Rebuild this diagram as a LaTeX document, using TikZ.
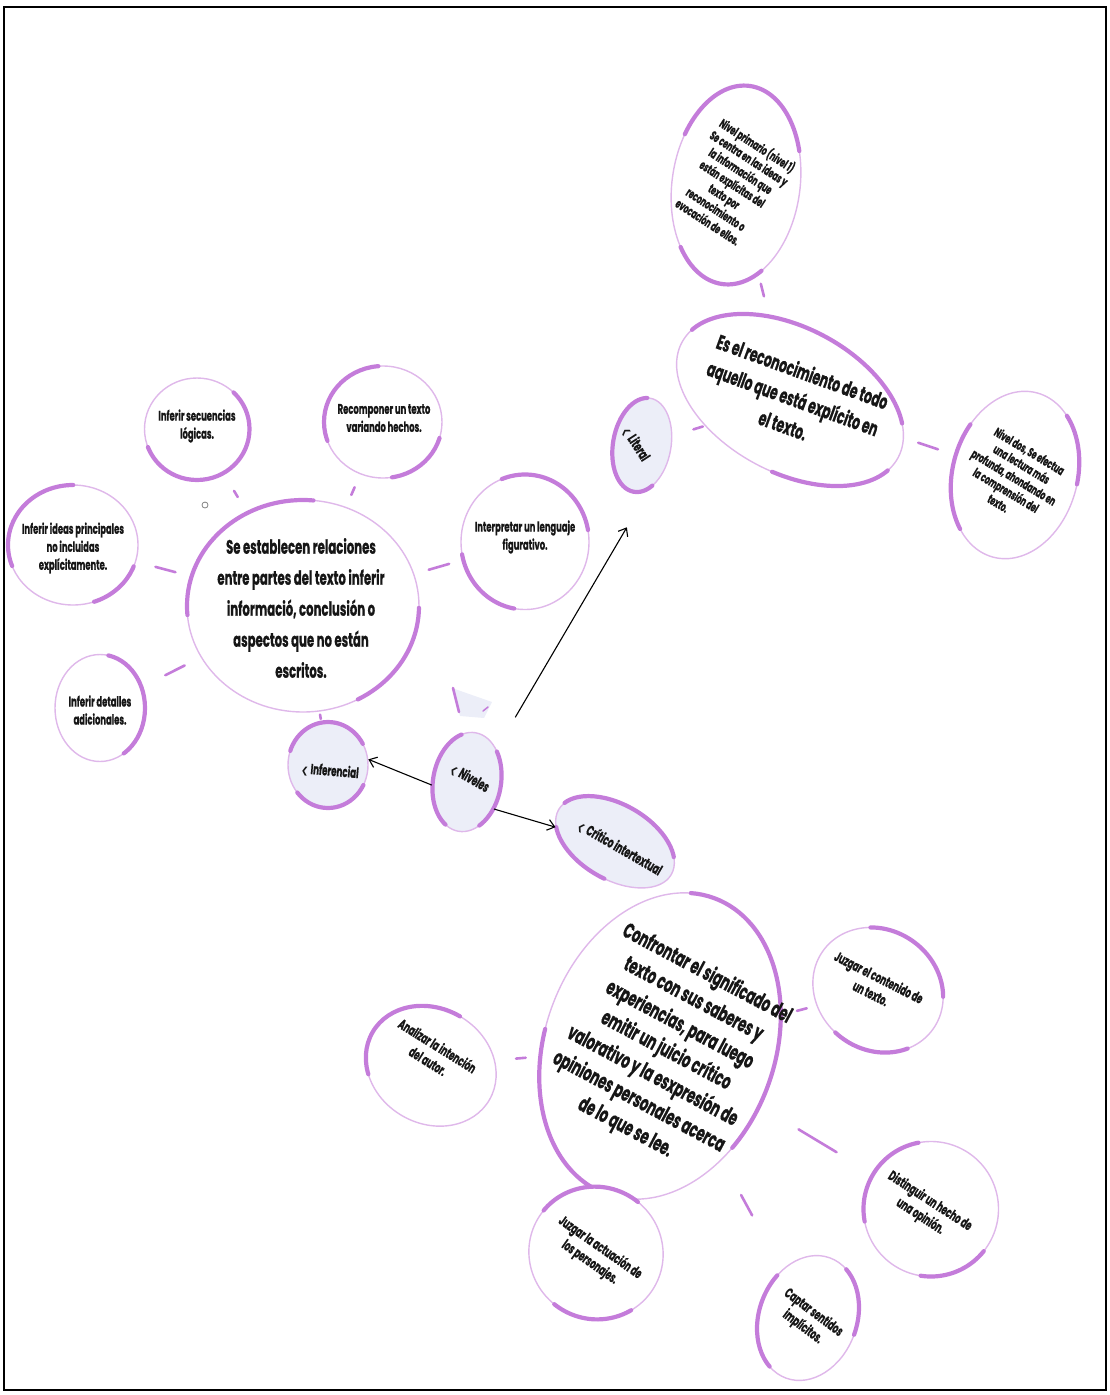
\documentclass[tikz,border=0pt]{standalone}
\usepackage{fontspec}
\setmainfont{Poppins}[FakeStretch=0.6, BoldFeatures={FakeBold=0.6}]
\newfontfamily\simbolo{DejaVu Sans}
\usetikzlibrary{shapes.geometric,arrows.meta}
\definecolor{lila}{HTML}{C47CDA}
\definecolor{lilaclaro}{HTML}{DFB8EA}
\definecolor{nube}{HTML}{ECEEF8}
\definecolor{tinta}{HTML}{161616}
\newcommand{\flechita}{{\simbolo\fontsize{9}{9}\selectfont ❮}}
\tikzset{
  burbuja/.style={ellipse, draw=lilaclaro, line width=1.4pt, fill=white, inner sep=0pt},
  nivel/.style={burbuja, fill=nube},
  brocha/.style 2 args={postaction={draw=lila, line width=4.2pt, line cap=round,
      dash pattern=#1, dash phase=#2}},
  texto/.style={align=center, text=tinta, inner sep=0pt,
      font=\bfseries\fontsize{14}{18}\selectfont},
  chico/.style={texto, font=\bfseries\fontsize{12.5}{15.2}\selectfont},
  etiqueta/.style={texto, font=\bfseries\fontsize{14.5}{16}\selectfont},
  grande/.style={texto, font=\bfseries\fontsize{19.5}{31}\selectfont},
  mediano/.style={texto, font=\bfseries\fontsize{20.5}{28.5}\selectfont},
  enorme/.style={texto, font=\bfseries\fontsize{21.5}{29}\selectfont},
  enlace/.style={lila, line width=2.6pt, line cap=round},
  flecha/.style={-{Straight Barb[length=7pt,width=11pt]}, line width=1.1pt, black}
}
\begin{document}
\begin{tikzpicture}[x=1pt, y=-1pt]
    \useasboundingbox (0,0) rectangle (1110,1395);
    \draw[line width=2.6pt] (4,7) rectangle (1106,1390);

    % literal
    \node[burbuja, minimum width=128pt, minimum height=200pt, rotate=-8,
          brocha={on 174pt off 116pt on 101pt off 3000pt}{3348pt}] (prim) at (736,185) {};
    \node[burbuja, minimum width=245pt, minimum height=145pt, rotate=-28,
          brocha={on 260pt off 190pt on 121pt off 3000pt}{3536pt}] (literaldef) at (790,400) {};
    \node[burbuja, minimum width=125pt, minimum height=170pt, rotate=-15,
          brocha={on 71pt off 117pt on 110pt off 3000pt}{3291pt}] (dos) at (1015,475) {};
    \node[nivel, minimum width=58pt, minimum height=95pt, rotate=-10,
          brocha={on 139pt off 3000pt}{3075pt}] (literal) at (642,445) {};
    \node[chico, rotate=-33] (prim-t) at (733,183) {Nivel primario (nivel 1)\\Se centra en las ideas y\\la información que\\están explícitas del\\texto por\\reconocimiento o\\evocación de ellos.};
    \node[mediano, rotate=-20] (literaldef-t) at (793,398) {Es el reconocimiento de todo\\aquello que está explícito en\\el texto.};
    \node[chico, rotate=-31] (dos-t) at (1014,477) {Nivel dos, Se efectua\\una lectura más\\profunda, ahondando en\\la comprensión del\\texto.};
    \node[etiqueta, rotate=-57] (literal-t) at (636,444) {\flechita\ Literal};

    % inferencial
    \node[burbuja, minimum width=232pt, minimum height=212pt,
          brocha={on 194pt off 222pt on 116pt off 3000pt}{3368pt}] (infdef) at (303,606) {};
    \node[burbuja, minimum width=105pt, minimum height=102pt,
          brocha={on 41pt off 140pt on 144pt off 3000pt}{0pt}] (secuencias) at (197,429) {};
    \node[burbuja, minimum width=118pt, minimum height=112pt,
          brocha={on 105pt off 80pt on 65pt off 3000pt}{3155pt}] (recomponer) at (383,422) {};
    \node[burbuja, minimum width=130pt, minimum height=120pt,
          brocha={on 120pt off 98pt on 55pt off 3000pt}{3175pt}] (ideas) at (73,545) {};
    \node[burbuja, minimum width=90pt, minimum height=107pt,
          brocha={on 69pt off 189pt on 52pt off 3000pt}{0pt}] (detalles) at (100,708) {};
    \node[burbuja, minimum width=128pt, minimum height=135pt,
          brocha={on 115pt off 92pt on 80pt off 3000pt}{3275pt}] (interpretar) at (525,542) {};
    \node[nivel, minimum width=80pt, minimum height=86pt,
          brocha={on 94pt off 44pt on 80pt off 3000pt}{3196pt}] (inferencial) at (328,765) {};
    \node[grande] (infdef-t) at (301,608) {Se establecen relaciones\\entre partes del texto inferir\\informació, conclusión o\\aspectos que no están\\escritos.};
    \node[texto] (secuencias-t) at (197,426) {Inferir secuencias\\lógicas.};
    \node[texto] (recomponer-t) at (384,418) {Recomponer un texto\\variando hechos.};
    \node[texto] (ideas-t) at (73,548) {Inferir ideas principales\\no incluidas\\explícitamente.};
    \node[texto] (detalles-t) at (100,710) {Inferir detalles\\adicionales.};
    \node[texto] (interpretar-t) at (525,537) {Interpretar un lenguaje\\figurativo.};
    \node[etiqueta, rotate=-5] (inferencial-t) at (330,771) {\flechita\ Inferencial};
    \draw[gray, line width=0.8pt] (205,505) circle (3);

    % niveles
    \fill[nube] (452,688) -- (492,702) -- (484,718) -- (460,716) -- cycle;
    \draw[lila, line width=2.6pt, line cap=round] (453,688) -- (459,712);
    \draw[lila, line width=1.5pt, line cap=round] (483,711) -- (488,707);
    \node[nivel, minimum width=68pt, minimum height=100pt, rotate=-10,
          brocha={on 37pt off 44pt on 104pt off 37pt on 44pt off 3000pt}{0pt}] (niveles) at (467,782) {};
    \node[etiqueta, rotate=-30] (niveles-t) at (470,778) {\flechita\ Niveles};

    % critico
    \node[nivel, minimum width=130pt, minimum height=75pt, rotate=-30,
          brocha={on 137pt off 27pt on 73pt off 3000pt}{3219pt}] (critico) at (615,842) {};
    \node[burbuja, minimum width=230pt, minimum height=315pt, rotate=-20,
          brocha={on 239pt off 215pt on 215pt off 120pt on 72pt off 3000pt}{0pt}] (critdef) at (660,1046) {};
    \node[burbuja, minimum width=135pt, minimum height=120pt, rotate=-35,
          brocha={on 111pt off 145pt on 78pt off 3000pt}{3300pt}] (contenido) at (878,990) {};
    \node[burbuja, minimum width=135pt, minimum height=115pt, rotate=-30,
          brocha={on 142pt off 3000pt}{3044pt}] (analizar) at (431,1066) {};
    \node[burbuja, minimum width=135pt, minimum height=135pt, rotate=-30,
          brocha={on 106pt off 83pt on 71pt off 3000pt}{3106pt}] (distinguir) at (931,1209) {};
    \node[burbuja, minimum width=135pt, minimum height=132pt, rotate=-30,
          brocha={on 105pt off 105pt on 82pt off 3000pt}{3198pt}] (personajes) at (596,1253) {};
    \node[burbuja, minimum width=98pt, minimum height=128pt, rotate=-20,
          brocha={on 69pt off 79pt on 99pt off 3000pt}{0pt}] (captar) at (808,1318) {};
    \node[etiqueta, rotate=-30] (critico-t) at (620,848) {\flechita\ Crítico intertextual};
    \node[enorme, rotate=-28] (critdef-t) at (666,1051) {Confrontar el significado del\\texto con sus saberes y\\experiencias, para luego\\emitir un juicio crítico\\valorativo y la esxpresión de\\opiniones personales acerca\\de lo que se lee.};
    \node[texto, rotate=-27] (contenido-t) at (875,985) {Juzgar el contenido de\\un texto.};
    \node[texto, rotate=-32] (analizar-t) at (433,1053) {Analizar la intención\\del autor.};
    \node[texto, rotate=-33] (distinguir-t) at (925,1209) {Distinguir un hecho de\\una opinión.};
    \node[texto, rotate=-35] (personajes-t) at (595,1255) {Juzgar la actuación de\\los personajes.};
    \node[texto, rotate=-37] (captar-t) at (808,1320) {Captar sentidos\\implícitos.};

    % enlaces
    \draw[enlace, shorten <=10pt, shorten >=20pt] (prim) -- (literaldef);
    \draw[enlace, shorten <=22pt, shorten >=2pt] (literal) -- (literaldef);
    \draw[enlace, shorten <=15pt, shorten >=18pt] (literaldef) -- (dos);
    \draw[enlace, shorten <=18pt, shorten >=20pt] (infdef) -- (secuencias);
    \draw[enlace, shorten <=13pt, shorten >=14pt] (infdef) -- (recomponer);
    \draw[enlace, shorten <=16pt, shorten >=20pt] (infdef) -- (ideas);
    \draw[enlace, shorten <=18pt, shorten >=26pt] (infdef) -- (detalles);
    \draw[enlace, shorten <=15pt, shorten >=14pt] (infdef) -- (interpretar);
    \draw[enlace, shorten <=3pt, shorten >=3pt] (infdef) -- (inferencial);
    \draw[enlace, shorten <=16pt, shorten >=10pt] (critdef) -- (contenido);
    \draw[enlace, shorten <=14pt, shorten >=21pt] (critdef) -- (analizar);
    \draw[enlace, shorten <=45pt, shorten >=42pt] (critdef) -- (distinguir);
    \draw[enlace, shorten <=40pt, shorten >=62pt] (critdef) -- (captar);

    % flechas
    \draw[flecha, shorten <=37pt, shorten >=45pt] (niveles.58) -- (literal.-70);
    \draw[flecha] (niveles.195) -- (inferencial.8);
    \draw[flecha] (niveles.-35) -- (critico.196);
\end{tikzpicture}
\end{document}
